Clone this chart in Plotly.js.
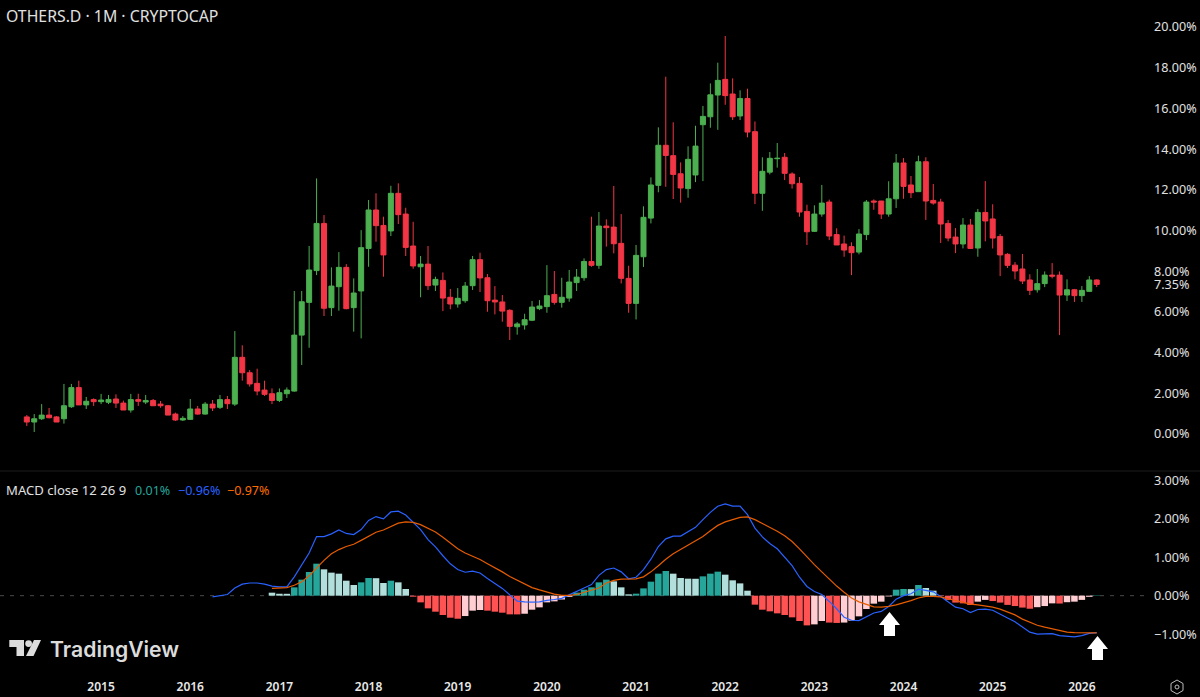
<!DOCTYPE html>
<html><head><meta charset="utf-8">
<script src="https://cdn.plot.ly/plotly-3.0.1.min.js"></script>
<style>html,body{margin:0;padding:0;background:#000}#c{width:1200px;height:697px}</style></head>
<body><div id="c"></div>
<script>
const firstYear=2014, firstMonth=3, monthCount=145;
const yearTicks=[2015,2016,2017,2018,2019,2020,2021,2022,2023,2024,2025,2026];
const priceTicks=[0,2,4,6,7.35,8,10,12,14,16,18,20];
const macdTicks=[-1,0,1,2,3];
const open=[0.84,0.59,0.75,0.93,0.84,0.75,1.34,2.28,1.43,1.69,1.59,1.56,1.72,1.52,1.18,1.69,1.57,1.65,1.47,1.39,0.98,0.69,0.72,1.23,0.98,1.47,1.31,1.69,1.47,3.77,3.01,2.49,2.16,1.98,1.65,1.98,
2.11,4.86,6.47,8.03,10.35,6.21,7.24,8.19,6.21,7.03,9.12,11.01,10.25,9.98,11.83,10.81,9.24,8.22,8.35,7.32,7.55,6.72,6.39,6.55,7.29,8.57,7.68,6.58,6.49,6.08,5.27,5.36,
5.59,6.16,6.26,6.86,6.47,6.68,7.44,7.68,8.48,8.29,10.22,10.17,9.37,7.65,6.42,8.71,10.61,12.22,14.19,13.68,12.79,12.06,12.73,15.20,15.59,16.66,17.43,16.71,15.63,16.49,14.86,11.83,12.87,13.53,13.60,12.78,12.32,10.94,
9.96,10.81,11.40,9.80,9.34,9.21,8.94,9.80,11.45,11.45,10.81,11.56,13.32,12.24,11.91,13.38,11.48,11.40,10.35,9.68,9.34,10.27,9.14,10.89,10.57,9.71,8.83,8.30,8.11,7.57,7.09,7.39,7.81,7.81,6.83,7.09,6.80,7.01,7.57];
const high=[0.93,0.98,1.47,1.28,0.88,2.46,2.46,2.62,1.82,1.75,1.97,1.92,1.95,1.64,1.97,1.98,1.92,1.72,1.62,1.43,1.05,0.88,1.72,1.38,1.57,1.67,1.92,1.87,5.06,4.36,3.14,3.21,2.62,2.24,2.24,2.29,
7.03,7.03,9.24,12.56,10.76,8.19,8.94,8.35,7.65,10.02,11.50,11.83,10.68,12.20,12.32,11.12,10.43,8.75,9.24,7.73,7.94,7.13,7.17,7.47,8.75,8.91,7.86,7.27,6.83,6.13,5.50,5.91,
6.54,6.58,8.30,8.01,7.68,8.06,8.11,8.63,10.68,10.91,10.55,12.19,10.81,8.27,9.29,11.19,12.61,15.07,17.56,15.32,13.35,14.14,15.15,16.12,17.23,18.25,19.56,17.48,16.89,16.97,15.36,13.60,13.86,14.30,13.81,12.86,12.63,11.27,
11.24,12.24,11.52,10.11,9.75,9.42,10.07,11.50,11.53,11.45,12.42,13.76,13.56,12.68,13.68,13.60,12.29,11.56,10.52,10.12,10.61,10.57,11.06,12.43,11.29,9.83,8.89,8.45,8.85,7.85,8.11,7.99,8.40,7.99,7.60,7.13,7.27,7.76,7.60];
const low=[0.39,0.10,0.69,0.77,0.59,0.51,1.28,1.43,1.23,1.38,1.47,1.47,1.28,1.18,1.05,1.38,1.47,1.38,1.29,0.93,0.64,0.64,0.69,0.95,0.95,1.13,1.23,1.23,1.38,2.62,2.33,1.90,1.87,1.47,1.57,1.77,
2.08,3.39,4.24,7.81,5.80,5.80,6.06,6.13,5.03,4.70,8.22,9.45,7.73,9.73,10.32,8.75,8.12,6.72,7.08,7.03,6.04,6.13,6.21,6.45,7.08,6.98,6.01,5.88,5.52,4.62,4.88,5.13,
5.55,6.09,5.96,6.36,6.21,6.50,7.03,7.53,8.22,8.12,9.21,8.88,7.40,5.96,5.63,8.21,10.35,11.88,12.15,11.55,11.37,11.61,12.38,12.43,15.05,14.95,16.18,15.43,15.43,14.58,11.30,10.97,12.76,13.09,12.48,12.06,10.68,9.29,
9.93,10.68,9.53,9.29,8.71,7.81,8.83,9.53,11.02,10.57,10.68,11.11,11.56,11.60,11.91,10.52,11.27,9.39,9.47,8.89,9.12,9.09,8.71,9.47,9.12,7.76,8.16,7.60,7.37,6.83,6.95,7.22,7.65,4.86,6.54,6.49,6.49,6.98,7.22];
const close=[0.59,0.75,0.93,0.80,0.59,1.39,2.28,1.43,1.61,1.59,1.67,1.70,1.52,1.18,1.69,1.61,1.65,1.39,1.39,0.93,0.69,0.77,1.23,0.98,1.47,1.28,1.69,1.49,3.77,3.01,2.46,2.11,1.95,1.65,2.03,2.16,
4.86,6.50,8.06,10.35,6.18,7.27,8.19,6.16,6.93,9.16,11.01,10.24,8.80,11.83,10.78,9.17,8.26,8.35,7.29,7.60,6.68,6.39,6.67,7.27,8.57,7.67,6.55,6.49,6.04,5.29,5.41,5.62,
6.24,6.29,6.80,6.47,6.72,7.47,7.71,8.48,8.29,10.22,10.14,9.35,7.65,6.42,8.78,10.65,12.24,14.19,13.69,12.76,12.09,13.50,14.15,15.61,16.67,17.38,16.63,15.59,16.49,14.84,11.83,12.91,13.55,13.55,12.81,12.30,10.91,9.94,
10.81,11.35,9.73,9.29,9.04,8.91,9.83,11.40,11.40,10.81,11.56,13.32,12.17,11.86,13.38,11.45,11.35,10.32,9.63,9.34,10.27,9.12,10.89,10.47,9.63,8.80,8.29,8.01,7.52,7.06,7.39,7.81,7.76,6.83,7.09,6.80,7.06,7.57,7.35];
const histStart=33;
const histogram=[.078,.05,.049,.217,.417,.616,.833,.686,.60,.573,.39,.278,.347,.46,.455,.33,.39,.347,.174,-.026,-.174,-.33,-.417,-.503,-.573,-.60,-.53,-.39,-.373,-.39,-.417,-.443,-.486,-.487,-.47,-.365,-.304,-.174,-.148,-.10,-.03,.08,.156,.217,.347,
.417,.373,.217,.035,.052,.19,.365,.573,.642,.573,.46,.443,.44,.503,.573,.625,.547,.40,.32,.13,-.234,-.365,-.408,-.46,-.503,-.564,-.66,-.773,-.747,-.66,-.70,-.71,-.70,-.651,-.538,-.347,-.208,-.156,-.02,.156,.174,.17,.278,.2,.13,-.01,-.11,-.18,-.2,-.243,-.156,-.11,-.14,-.18,-.24,-.27,-.31,-.34,-.30,-.27,-.2,-.205,-.17,-.156,-.11,-.03,.01];
const macdStart=25;
const macdLine=[-.03,.01,.03,.20,.30,.33,.33,.30,.25,.23,.23,.49,.79,1.11,1.54,1.54,1.61,1.71,1.62,1.59,1.72,1.96,2.06,2.00,2.18,2.20,2.10,1.91,1.72,1.46,1.27,1.04,.83,.68,.61,.64,.59,.45,.33,.19,.02,-.14,-.16,-.17,-.16,-.12,-.10,-.07,.02,.10,.20,.29,.53,
.68,.72,.62,.44,.48,.68,.95,1.28,1.48,1.55,1.55,1.66,1.78,1.98,2.17,2.33,2.39,2.33,2.33,2.11,1.76,1.53,1.36,1.22,1.01,.78,.48,.24,.11,.03,-.15,-.34,-.56,-.64,-.65,-.56,-.45,-.41,-.28,-.09,0,.05,.17,.14,.10,-.02,-.16,-.30,-.34,-.44,-.36,-.35,-.38,-.47,-.58,-.68,-.82,-.95,-1.00,-1.00,-.99,-1.04,-1.05,-1.07,-1.04,-.98,-.96];
const signalStart=33;
const signalLine=[.19,.20,.21,.27,.36,.52,.73,.92,1.09,1.20,1.28,1.34,1.44,1.55,1.65,1.71,1.81,1.89,1.92,1.91,1.85,1.76,1.66,1.52,1.37,1.22,1.11,1.03,.94,.83,.73,.62,.50,.40,.30,.21,.15,.09,.04,.01,.01,.03,.08,.14,.20,
.33,.40,.43,.43,.44,.49,.62,.78,.95,1.09,1.20,1.30,1.41,1.54,1.69,1.83,1.92,1.99,2.04,2.05,1.98,1.88,1.79,1.68,1.56,1.41,1.22,1.01,.81,.62,.43,.25,.09,-.06,-.16,-.23,-.29,-.30,-.28,-.24,-.19,-.13,-.06,-.02,-.02,-.03,-.08,-.13,-.17,-.22,-.24,-.27,-.30,-.35,-.43,-.50,-.61,-.70,-.77,-.82,-.87,-.91,-.95,-.96,-.96,-.96,-.97];

const months=[];
for(let i=0;i<monthCount;i++){const t=firstMonth-1+i;const y=firstYear+Math.floor(t/12);const m=t%12+1;months.push(y+'-'+String(m).padStart(2,'0'));}
const histColors=histogram.map((v,i)=>{const up=i===0?false:v>=histogram[i-1];return v>=0?(up?'#26a69a':'#b2dfdb'):(up?'#ffcdd2':'#ff5252');});

// pixel helpers for decoration only
const W=1200,H=697,R=50,B=25,PW=W-R,PH=H-B;
const px=x=>x/PW, py=y=>(PH-y)/PH;
const poly=pts=>'M'+pts.map(p=>px(p[0])+' '+py(p[1])).join(' L')+' Z';
const deco=(pts,c)=>({type:'path',xref:'paper',yref:'paper',path:poly(pts),fillcolor:c,line:{width:0},layer:'above'});
const arrow=(cx,top)=>[[cx,top],[cx+10.5,top+13],[cx+5.5,top+13],[cx+5.5,top+24],[cx-5.5,top+24],[cx-5.5,top+13],[cx-10.5,top+13]];
const TXT='#e0e0e0';
const label=(x,y,t,c,s,f,w)=>({xref:'paper',yref:'paper',x:px(x),y:py(y),xanchor:'left',yanchor:'middle',showarrow:false,text:t,font:{color:c,size:s,family:f||'Noto Sans',weight:w||400}});
const TICK=12.6;

const traces=[
{type:'candlestick',x:months,open:open,high:high,low:low,close:close,xaxis:'x',yaxis:'y',
 increasing:{line:{color:'#4caf50',width:1},fillcolor:'#4caf50'},
 decreasing:{line:{color:'#f23645',width:1},fillcolor:'#f23645'},whiskerwidth:0,hoverinfo:'skip'},
{type:'bar',x:months.slice(histStart),y:histogram,xaxis:'x',yaxis:'y2',marker:{color:histColors,line:{width:0}},hoverinfo:'skip'},
{type:'scatter',mode:'lines',x:months.slice(macdStart),y:macdLine,xaxis:'x',yaxis:'y2',line:{color:'#2962ff',width:1.2},hoverinfo:'skip'},
{type:'scatter',mode:'lines',x:months.slice(signalStart),y:signalLine,xaxis:'x',yaxis:'y2',line:{color:'#e65c00',width:1.2},hoverinfo:'skip'}
];
const layout={
 width:W,height:H,paper_bgcolor:'#000',plot_bgcolor:'#000',showlegend:false,hovermode:false,bargap:0.12,boxgap:0.2,boxgroupgap:0.16,
 margin:{l:0,r:R,t:0,b:B,pad:0},
 xaxis:{type:'category',categoryorder:'array',categoryarray:months,range:[-26.8/7.43,(PW-26.8)/7.43],anchor:'y2',showgrid:false,zeroline:false,showline:false,ticks:'',ticklabelstandoff:6,
  tickmode:'array',tickvals:yearTicks.map(y=>y+'-01'),ticktext:yearTicks.map(String),tickfont:{color:'#e8e8e8',size:12,family:'Noto Sans',weight:600},rangeslider:{visible:false},fixedrange:true},
 yaxis:{domain:[(PH-471)/PH,1],range:[-1.818,21.33],side:'right',anchor:'x',showgrid:false,zeroline:false,showline:false,ticks:'',ticklabelstandoff:3,tickmode:'array',tickvals:priceTicks,ticktext:priceTicks.map(v=>v.toFixed(2)+'%'),tickfont:{color:'#e0e0e0',size:TICK,family:'Noto Sans'},fixedrange:true},
 yaxis2:{domain:[0,(PH-472)/PH],range:[-1.987,3.22],side:'right',anchor:'x',showgrid:false,zeroline:false,showline:false,ticks:'',ticklabelstandoff:3,tickmode:'array',tickvals:macdTicks,ticktext:macdTicks.map(v=>(v<0?'\u2212':'')+Math.abs(v).toFixed(2)+'%'),tickfont:{color:'#e0e0e0',size:TICK,family:'Noto Sans'},fixedrange:true},
 shapes:[
  {type:'line',xref:'paper',yref:'y2',x0:0,x1:px(1146),y0:0,y1:0,line:{color:'#4a4a4a',width:1,dash:'4px,6px'},layer:'below'},
  {type:'line',xref:'paper',yref:'paper',x0:0,x1:W/PW,y0:py(471),y1:py(471),line:{color:'#1c1c1c',width:1}},
  deco(arrow(889.5,612),'#ffffff'),deco(arrow(1097.5,636),'#ffffff'),
  deco([[9.3,640],[24,640],[24,656],[16.5,656],[16.5,647],[9.3,647]],'#dcdcdc'),
  deco([[34,640],[41,640],[33.5,656],[26,656]],'#dcdcdc'),
  {type:'circle',xref:'paper',yref:'paper',x0:px(25.2),x1:px(32),y0:py(647),y1:py(640.2),fillcolor:'#dcdcdc',line:{width:0},layer:'above'},
  {type:'path',xref:'paper',yref:'paper',path:poly([[1177,680],[1183,683.5],[1183,690.5],[1177,694],[1171,690.5],[1171,683.5]]),line:{color:'#bdbdbd',width:1}},
  {type:'circle',xref:'paper',yref:'paper',x0:px(1175),x1:px(1179),y0:py(689),y1:py(685),line:{color:'#bdbdbd',width:1}}
 ],
 annotations:[
  label(4,16,'OTHERS.D · 1M · CRYPTOCAP','#e0e0e0',15.8),
  label(4,490,'MACD close 12 26 9',TXT,13.1),
  label(132.5,490,'0.01%','#26a69a',12.5),
  label(175.5,490,'\u22120.96%','#2962ff',12.5),
  label(224.5,490,'\u22120.97%','#ff6d00',12.5),
  label(47.5,649,'TradingView','#dcdcdc',21.2,'Inter',600)
 ]
};
Plotly.newPlot('c',traces,layout,{displayModeBar:false,staticPlot:true});
</script></body></html>
